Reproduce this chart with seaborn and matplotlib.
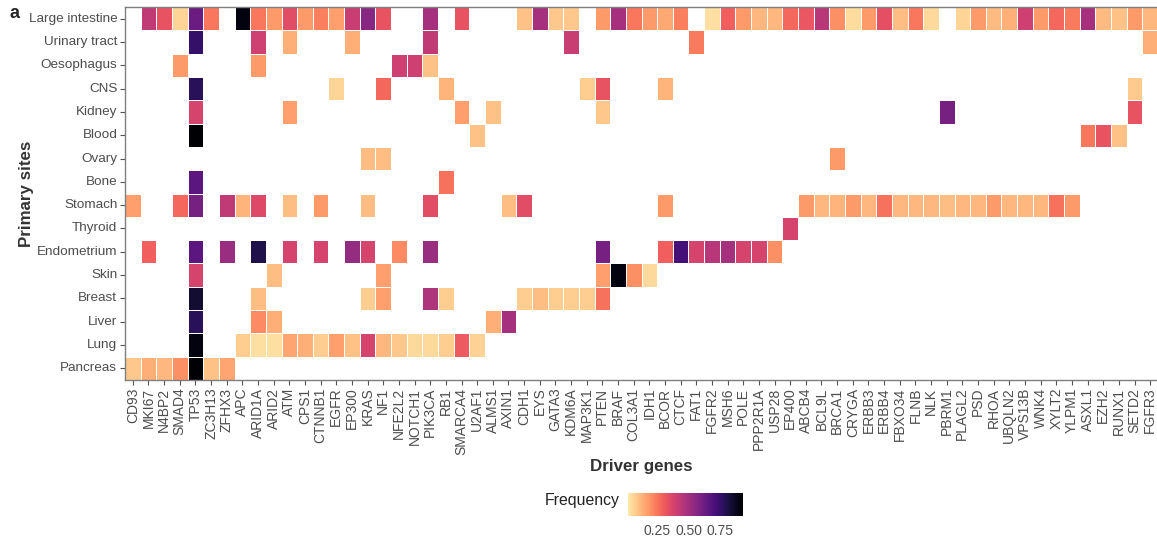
import numpy as np
import pandas as pd
import matplotlib
matplotlib.use("Agg")
import matplotlib.pyplot as plt
from matplotlib.colors import ListedColormap
import seaborn as sns

genes = ["CD93", "MKI67", "N4BP2", "SMAD4", "TP53", "ZC3H13", "ZFHX3", "APC", "ARID1A", "ARID2",
         "ATM", "CPS1", "CTNNB1", "EGFR", "EP300", "KRAS", "NF1", "NFE2L2", "NOTCH1", "PIK3CA",
         "RB1", "SMARCA4", "U2AF1", "ALMS1", "AXIN1", "CDH1", "EYS", "GATA3", "KDM6A", "MAP3K1",
         "PTEN", "BRAF", "COL3A1", "IDH1", "BCOR", "CTCF", "FAT1", "FGFR2", "MSH6", "POLE",
         "PPP2R1A", "USP28", "EP400", "ABCB4", "BCL9L", "BRCA1", "CRYGA", "ERBB3", "ERBB4", "FBXO34",
         "FLNB", "NLK", "PBRM1", "PLAGL2", "PSD", "RHOA", "UBQLN2", "VPS13B", "WNK4", "XYLT2",
         "YLPM1", "ASXL1", "EZH2", "RUNX1", "SETD2", "FGFR3"]

sites = ["Large intestine", "Urinary tract", "Oesophagus", "CNS", "Kidney", "Blood", "Ovary",
         "Bone", "Stomach", "Thyroid", "Endometrium", "Skin", "Breast", "Liver", "Lung", "Pancreas"]

large_intestine = {"MKI67": .43, "N4BP2": .33, "SMAD4": .06, "TP53": .63, "ZC3H13": .25, "APC": .90,
                   "ARID1A": .25, "ARID2": .18, "ATM": .35, "CPS1": .18, "CTNNB1": .23, "EGFR": .17,
                   "EP300": .41, "KRAS": .56, "NF1": .33, "PIK3CA": .49, "SMARCA4": .33, "CDH1": .10,
                   "EYS": .49, "GATA3": .09, "KDM6A": .09, "PTEN": .18, "BRAF": .49, "COL3A1": .25,
                   "IDH1": .18, "BCOR": .15, "CTCF": .23, "FGFR2": .04, "MSH6": .30, "POLE": .18,
                   "PPP2R1A": .12, "USP28": .12, "EP400": .28, "ABCB4": .32, "BCL9L": .45, "BRCA1": .20,
                   "CRYGA": .045, "ERBB3": .18, "ERBB4": .34, "FBXO34": .11, "FLNB": .25, "NLK": .05,
                   "PLAGL2": .06, "PSD": .18, "RHOA": .115, "UBQLN2": .135, "VPS13B": .40, "WNK4": .18,
                   "XYLT2": .28, "YLPM1": .24, "ASXL1": .49, "EZH2": .115, "RUNX1": .10, "SETD2": .18,
                   "FGFR3": .12}
urinary_tract = {"TP53": .75, "ARID1A": .40, "ATM": .14, "EP300": .14, "PIK3CA": .43, "KDM6A": .41,
                 "FAT1": .24, "FGFR3": .14}
oesophagus = {"SMAD4": .18, "ARID1A": .18, "NFE2L2": .40, "NOTCH1": .40, "PIK3CA": .10}
cns = {"TP53": .78, "EGFR": .06, "NF1": .28, "RB1": .13, "MAP3K1": .08, "PTEN": .33, "BCOR": .13,
       "SETD2": .085}
kidney = {"TP53": .38, "ATM": .17, "SMARCA4": .17, "ALMS1": .10, "PTEN": .09, "PBRM1": .60, "SETD2": .33}
blood = {"TP53": .93, "U2AF1": .10, "ASXL1": .25, "EZH2": .33, "RUNX1": .10}
ovary = {"KRAS": .11, "NF1": .11, "BRCA1": .18}
bone = {"TP53": .66, "RB1": .26}
stomach = {"CD93": .17, "SMAD4": .28, "TP53": .60, "ZFHX3": .43, "APC": .13, "ARID1A": .36, "ATM": .11,
           "CTNNB1": .18, "KRAS": .11, "PIK3CA": .35, "AXIN1": .11, "CDH1": .35, "BCOR": .18,
           "ABCB4": .18, "BCL9L": .12, "BRCA1": .13, "CRYGA": .18, "ERBB3": .12, "ERBB4": .26,
           "FBXO34": .12, "FLNB": .12, "NLK": .12, "PBRM1": .11, "PLAGL2": .12, "PSD": .12,
           "RHOA": .18, "UBQLN2": .12, "VPS13B": .12, "WNK4": .12, "XYLT2": .26, "YLPM1": .18}
thyroid = {"EP400": .38}
endometrium = {"MKI67": .30, "TP53": .66, "ZFHX3": .52, "ARID1A": .80, "ATM": .38, "CTNNB1": .38,
               "EP300": .53, "KRAS": .38, "NFE2L2": .21, "PIK3CA": .52, "PTEN": .60, "BCOR": .30,
               "CTCF": .72, "FAT1": .38, "FGFR2": .45, "MSH6": .49, "POLE": .38, "PPP2R1A": .38,
               "USP28": .20}
skin = {"TP53": .38, "ARID2": .11, "NF1": .17, "PTEN": .17, "BRAF": .90, "COL3A1": .20, "IDH1": .05}
breast = {"TP53": .84, "ARID1A": .11, "KRAS": .08, "NF1": .17, "PIK3CA": .47, "RB1": .08, "CDH1": .08,
          "EYS": .11, "GATA3": .08, "KDM6A": .08, "MAP3K1": .08, "PTEN": .26}
liver = {"TP53": .78, "ARID1A": .21, "ARID2": .14, "ALMS1": .14, "AXIN1": .49}
lung = {"TP53": .90, "APC": .08, "ARID1A": .04, "ARID2": .04, "ATM": .16, "CPS1": .14, "CTNNB1": .08,
        "EGFR": .17, "EP300": .10, "KRAS": .38, "NF1": .12, "NFE2L2": .09, "NOTCH1": .05,
        "PIK3CA": .05, "RB1": .08, "SMARCA4": .31, "U2AF1": .07}
pancreas = {"CD93": .09, "MKI67": .14, "N4BP2": .12, "SMAD4": .20, "TP53": .92, "ZC3H13": .10,
            "ZFHX3": .16}

rows = [large_intestine, urinary_tract, oesophagus, cns, kidney, blood, ovary, bone, stomach,
        thyroid, endometrium, skin, breast, liver, lung, pancreas]

df = pd.DataFrame([[r.get(g, np.nan) for g in genes] for r in rows], index=sites, columns=genes)

sns.set_style("white")
plt.rcParams["font.family"] = ["Liberation Sans", "DejaVu Sans"]

cmap = ListedColormap(plt.get_cmap("magma")(np.linspace(0.955, 0.0, 256)))

W, H = 1157, 539
fig = plt.figure(figsize=(W / 100, H / 100), dpi=100)
ax = fig.add_axes([125 / W, (H - 380) / H, (1158 - 125) / W, 373 / H])
cax = fig.add_axes([628 / W, (H - 516) / H, 115 / W, 23 / H])

grey_txt = "#4D4D4D"
sns.heatmap(df, ax=ax, cmap=cmap, vmin=0.02, vmax=0.93, linewidths=0.6, linecolor="white",
            cbar_ax=cax, cbar_kws={"orientation": "horizontal", "ticks": [0.25, 0.5, 0.75]})

ax.set_xticks(np.arange(len(genes)) + 0.5)
ax.set_xticklabels(genes, rotation=90, fontsize=10, color=grey_txt)
ax.set_yticks(np.arange(len(sites)) + 0.5)
ax.set_yticklabels(sites, rotation=0, fontsize=9.7, color=grey_txt)
ax.tick_params(axis="both", length=3.5, width=0.8, color="#555555", pad=2, bottom=True, left=True)
for s in ax.spines.values():
    s.set_visible(True)
    s.set_color("#7f7f7f")
    s.set_linewidth(1.0)

ax.set_xlabel("")
ax.set_ylabel("")
fig.text(641 / W, 1 - 467 / H, "Driver genes", ha="center", va="center", fontsize=12.2,
         fontweight="bold", color="#333333")
fig.text(27 / W, 1 - 194 / H, "Primary sites", ha="center", va="center", fontsize=12.2,
         fontweight="bold", color="#333333", rotation=90)

cax.tick_params(axis="x", direction="in", length=4, color="white", width=0.8, labelsize=10,
                labelcolor=grey_txt, pad=6)
cax.set_xticklabels(["0.25", "0.50", "0.75"])
for s in cax.spines.values():
    s.set_visible(False)
fig.text(620 / W, 1 - 501 / H, "Frequency", ha="right", va="center", fontsize=11.4, color="#222222")

fig.text(10 / W, 1 - 14 / H, "a", ha="left", va="center", fontsize=13, fontweight="bold")

fig.savefig("out.png", dpi=100)
